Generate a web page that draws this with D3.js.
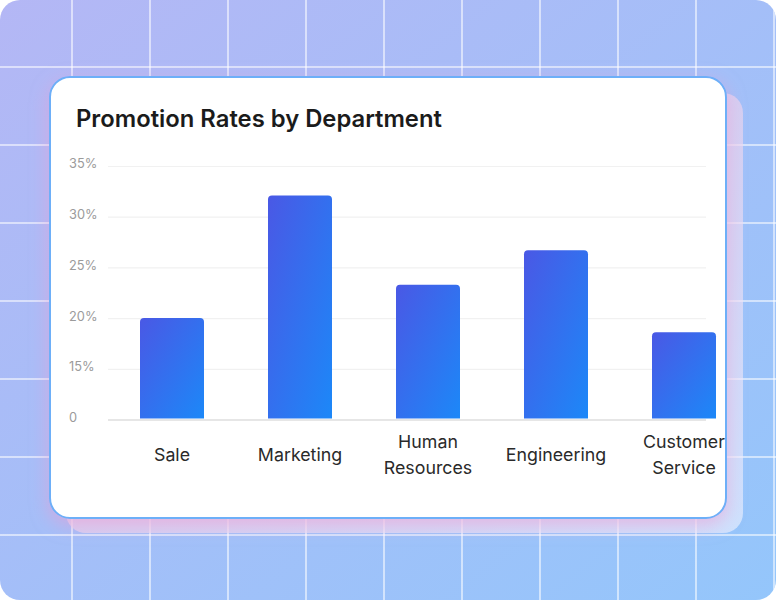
<!DOCTYPE html>
<html>
<head>
<meta charset="utf-8">
<script src="https://cdn.jsdelivr.net/npm/d3@7"></script>
<style>
  html, body { margin: 0; padding: 0; background: #ffffff; }
  svg { display: block; }
</style>
</head>
<body>
<svg id="chart" width="776" height="600"></svg>
<script>
// ---- data ----
const categories = ["Sale", "Marketing", "Human Resources", "Engineering", "Customer Service"];
const promotionRates = [20, 32.1, 23.3, 26.7, 18.6];
const tickValues = [10, 15, 20, 25, 30, 35];
const tickLabels = ["0", "15%", "20%", "25%", "30%", "35%"];
const title = "Promotion Rates by Department";

const W = 776, H = 600;
const svg = d3.select("#chart");
const defs = svg.append("defs");

// background gradient
const bg = defs.append("linearGradient").attr("id", "bgGrad")
  .attr("x1", "0%").attr("y1", "0%").attr("x2", "100%").attr("y2", "100%");
bg.append("stop").attr("offset", "0%").attr("stop-color", "#b4b7f5");
bg.append("stop").attr("offset", "100%").attr("stop-color", "#94c6fb");

const barGrad = defs.append("linearGradient").attr("id", "barGrad")
  .attr("x1", "0%").attr("y1", "0%").attr("x2", "100%").attr("y2", "100%");
barGrad.append("stop").attr("offset", "0%").attr("stop-color", "#4a58e5");
barGrad.append("stop").attr("offset", "100%").attr("stop-color", "#1c88f8");

const backGrad = defs.append("linearGradient").attr("id", "backGrad")
  .attr("x1", "0%").attr("y1", "0%").attr("x2", "100%").attr("y2", "100%");
backGrad.append("stop").attr("offset", "0%").attr("stop-color", "#e6b4dc").attr("stop-opacity", 0.75);
backGrad.append("stop").attr("offset", "100%").attr("stop-color", "#f2f4ff").attr("stop-opacity", 0.6);

const glow = defs.append("filter").attr("id", "glow")
  .attr("x", "-10%").attr("y", "-10%").attr("width", "120%").attr("height", "130%");
glow.append("feDropShadow").attr("dx", 0).attr("dy", 6).attr("stdDeviation", 9)
  .attr("flood-color", "#f29ad0").attr("flood-opacity", 0.55);

defs.append("clipPath").attr("id", "pageClip")
  .append("rect").attr("width", W).attr("height", H).attr("rx", 20);

const page = svg.append("g").attr("clip-path", "url(#pageClip)");
page.append("rect").attr("width", W).attr("height", H).attr("fill", "url(#bgGrad)");

// decorative background grid
const gridX = d3.range(72, W, 78);
const gridY = d3.range(67, H, 78);
page.selectAll("line.vx").data(gridX).join("line")
  .attr("x1", d => d).attr("x2", d => d).attr("y1", 0).attr("y2", H)
  .attr("stroke", "#ffffff").attr("stroke-opacity", 0.55).attr("stroke-width", 2);
page.selectAll("line.hy").data(gridY).join("line")
  .attr("x1", 0).attr("x2", W).attr("y1", d => d).attr("y2", d => d)
  .attr("stroke", "#ffffff").attr("stroke-opacity", 0.55).attr("stroke-width", 2);

// back card
page.append("rect").attr("x", 66).attr("y", 93).attr("width", 677).attr("height", 440)
  .attr("rx", 20).attr("fill", "url(#backGrad)");

// main card
page.append("rect").attr("x", 50).attr("y", 77).attr("width", 676).attr("height", 441)
  .attr("rx", 20).attr("fill", "#ffffff").attr("stroke", "#6daff8").attr("stroke-width", 2)
  .attr("filter", "url(#glow)");

// title
page.append("text").attr("x", 76).attr("y", 127)
  .attr("font-family", "Inter, 'Noto Sans', sans-serif").attr("font-size", 23.8)
  .attr("font-weight", 600).attr("fill", "#1b1b1b").text(title);

// scales
const x = d3.scaleBand().domain(categories).range([108, 748])
  .paddingInner(0.5).paddingOuter(0.25);
const y = d3.scaleLinear().domain([10, 35]).range([419.5, 166]);

const gridRight = 706;
// horizontal gridlines via axis
const gAxis = page.append("g").attr("transform", "translate(108,0)")
  .call(d3.axisLeft(y).tickValues(tickValues).tickSize(-(gridRight - 108)).tickFormat(""));
gAxis.select(".domain").remove();
gAxis.selectAll(".tick line")
  .attr("stroke", d => d === 10 ? "#e6e6e6" : "#f1f1f1")
  .attr("stroke-width", d => d === 10 ? 2 : 1.2);

// y labels via axis
const yLab = page.append("g").attr("transform", "translate(69,0)")
  .call(d3.axisLeft(y).tickValues(tickValues).tickSize(0)
    .tickFormat((d, i) => tickLabels[i]));
yLab.select(".domain").remove();
yLab.selectAll(".tick text")
  .attr("x", 0).attr("dy", "0.15em").attr("text-anchor", "start")
  .attr("font-family", "Inter, 'Noto Sans', sans-serif").attr("font-size", 12.8)
  .attr("fill", "#9b9b9b");

// bars with rounded top corners
function topRounded(x0, y0, w, h, r) {
  r = Math.min(r, h, w / 2);
  return `M${x0},${y0 + h} V${y0 + r} Q${x0},${y0} ${x0 + r},${y0} H${x0 + w - r} Q${x0 + w},${y0} ${x0 + w},${y0 + r} V${y0 + h} Z`;
}
const data = categories.map((c, i) => ({ c, v: promotionRates[i] }));
page.selectAll("path.bar").data(data).join("path")
  .attr("class", "bar")
  .attr("d", d => topRounded(x(d.c), y(d.v), x.bandwidth(), y(10) - 1 - y(d.v), 4))
  .attr("fill", "url(#barGrad)");

// x labels via axis
const xAx = page.append("g").attr("transform", "translate(0,455)")
  .call(d3.axisBottom(x).tickSize(0));
xAx.select(".domain").remove();
xAx.selectAll(".tick text")
  .attr("font-family", "Inter, 'Noto Sans', sans-serif").attr("font-size", 17.8)
  .attr("fill", "#2a2a2a")
  .each(function(d) {
    const t = d3.select(this);
    const words = d.split(" ");
    t.text(null).attr("y", 0).attr("dy", null);
    const lh = 26;
    const start = -(words.length - 1) * lh / 2;
    words.forEach((w, i) => {
      t.append("tspan").attr("x", 0).attr("y", start + i * lh).attr("dy", "0.35em").text(w);
    });
  });
</script>
</body>
</html>
